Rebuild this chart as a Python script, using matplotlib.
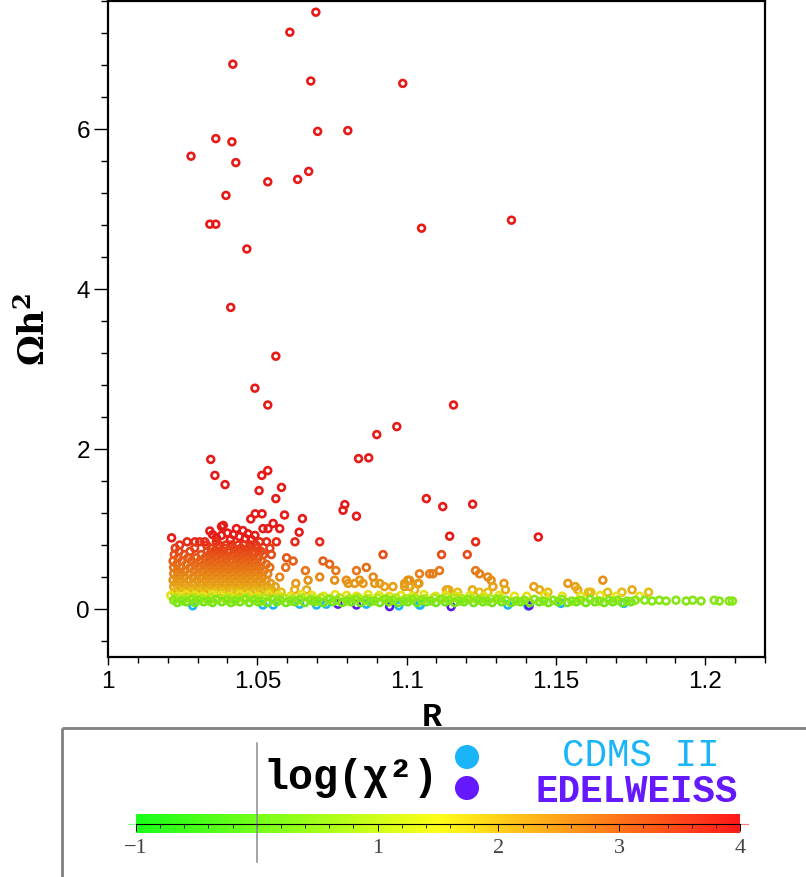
import numpy as np
import matplotlib
matplotlib.use("Agg")
import matplotlib.pyplot as plt
from matplotlib.colors import ListedColormap, Normalize, hsv_to_rgb
from matplotlib.ticker import MultipleLocator, FixedLocator, FuncFormatter

plt.rcParams["mathtext.fontset"] = "dejavuserif"

# ---- data ----
# large relic density points, all at the red end of the scale
red_R = [1.0696, 1.0609, 1.0418, 1.0679, 1.0987, 1.0361, 1.0415, 1.0702, 1.0803, 1.0278,
         1.0428, 1.0535, 1.0635, 1.0672, 1.0395, 1.0341, 1.0361, 1.1050, 1.1351, 1.0465,
         1.0411, 1.0562, 1.0492, 1.0535, 1.0967, 1.0900, 1.1157, 1.0344, 1.0358, 1.0839,
         1.0873, 1.0515, 1.0535, 1.0392, 1.0506, 1.0581, 1.0562, 1.0591, 1.0478, 1.0493,
         1.0516, 1.0651, 1.0640, 1.0793, 1.0787, 1.0832, 1.1066, 1.1121, 1.1221, 1.1144,
         1.1441, 1.0213, 1.0341, 1.0380, 1.0386, 1.0363, 1.0430, 1.0452, 1.0469, 1.0492,
         1.0519, 1.0536, 1.0553, 1.0575, 1.0400, 1.0420, 1.0440, 1.0460, 1.0380, 1.0410,
         1.0480, 1.0350]
red_O = [7.46, 7.21, 6.81, 6.60, 6.57, 5.88, 5.84, 5.97, 5.98, 5.66,
         5.58, 5.34, 5.37, 5.47, 5.17, 4.81, 4.81, 4.76, 4.86, 4.50,
         3.77, 3.16, 2.76, 2.55, 2.28, 2.18, 2.55, 1.87, 1.67, 1.88,
         1.89, 1.67, 1.73, 1.555, 1.48, 1.52, 1.38, 1.175, 1.125, 1.19,
         1.19, 1.13, 0.96, 1.305, 1.234, 1.16, 1.38, 1.28, 1.31, 0.91,
         0.90, 0.89, 0.975, 1.03, 1.045, 0.89, 1.005, 0.98, 0.94, 0.92,
         1.005, 1.005, 1.07, 1.005, 0.95, 0.93, 0.905, 0.88, 0.92, 0.87,
         0.87, 0.93]
red_chi = 3.95

# the dense cluster and its tail: (Omega h^2, log chi^2, R values)
cluster_rows = [
    (0.84, 3.75, [1.0265, 1.0291, 1.0307, 1.0324, 1.0363, 1.0508, 1.0531, 1.0564, 1.0626, 1.0709, 1.1231]),
    (0.80, 3.65, [1.0240, 1.0330, 1.0372, 1.0395, 1.0412, 1.0436, 1.0455, 1.0478, 1.0495]),
    (0.76, 3.55, [1.0225, 1.0290, 1.0345, 1.0368, 1.0390, 1.0420, 1.0445, 1.0470, 1.0500, 1.0542]),
    (0.72, 3.45, [1.0238, 1.0275, 1.0332, 1.0355, 1.0381, 1.0405, 1.0432, 1.0458, 1.0485, 1.0512]),
    (0.68, 3.35, [1.0222, 1.0255, 1.0312, 1.0340, 1.0365, 1.0392, 1.0418, 1.0442, 1.0466, 1.0490,
                  1.0520, 1.0547, 1.0921, 1.1117, 1.1203]),
    (0.64, 3.25, [1.0235, 1.0268, 1.0296, 1.0325, 1.0350, 1.0377, 1.0400, 1.0428, 1.0452, 1.0476,
                  1.0503, 1.0598]),
    (0.60, 3.15, [1.0218, 1.0248, 1.0280, 1.0308, 1.0336, 1.0360, 1.0385, 1.0410, 1.0438, 1.0462,
                  1.0488, 1.0515, 1.0620, 1.0720]),
    (0.56, 3.05, [1.0230, 1.0262, 1.0292, 1.0320, 1.0346, 1.0372, 1.0397, 1.0424, 1.0449, 1.0474,
                  1.0500, 1.0530, 1.0742]),
    (0.52, 2.95, [1.0220, 1.0245, 1.0275, 1.0303, 1.0330, 1.0356, 1.0382, 1.0407, 1.0433, 1.0458,
                  1.0484, 1.0510, 1.0542, 1.0595, 1.0865]),
    (0.48, 2.85, [1.0232, 1.0258, 1.0288, 1.0316, 1.0342, 1.0368, 1.0394, 1.0420, 1.0446, 1.0470,
                  1.0496, 1.0522, 1.0661, 1.0763, 1.0832, 1.1110, 1.1231]),
    (0.44, 2.75, [1.0220, 1.0244, 1.0272, 1.0300, 1.0327, 1.0353, 1.0379, 1.0404, 1.0430, 1.0455,
                  1.0480, 1.0507, 1.0535, 1.1077, 1.1088, 1.1043, 1.1244]),
    (0.40, 2.65, [1.0230, 1.0256, 1.0285, 1.0312, 1.0338, 1.0364, 1.0390, 1.0416, 1.0441, 1.0466,
                  1.0492, 1.0518, 1.0575, 1.0709, 1.0888, 1.1272]),
    (0.36, 2.55, [1.0218, 1.0243, 1.0270, 1.0298, 1.0325, 1.0350, 1.0376, 1.0402, 1.0427, 1.0452,
                  1.0478, 1.0504, 1.0530, 1.0670, 1.0759, 1.0798, 1.0843, 1.1004, 1.1010, 1.1283,
                  1.1657]),
    (0.32, 2.45, [1.0228, 1.0255, 1.0283, 1.0310, 1.0336, 1.0362, 1.0388, 1.0413, 1.0439, 1.0464,
                  1.0490, 1.0516, 1.0545, 1.0629, 1.0804, 1.0826, 1.0854, 1.0893, 1.0910, 1.0993,
                  1.1038, 1.1041, 1.1326, 1.1540]),
    (0.28, 2.35, [1.0220, 1.0246, 1.0273, 1.0300, 1.0326, 1.0352, 1.0378, 1.0404, 1.0429, 1.0455,
                  1.0480, 1.0506, 1.0533, 1.0560, 1.0926, 1.0954, 1.0993, 1.1010, 1.1289, 1.1426,
                  1.1565]),
    (0.24, 2.20, [1.0232, 1.0260, 1.0288, 1.0315, 1.0341, 1.0367, 1.0393, 1.0418, 1.0444, 1.0470,
                  1.0495, 1.0521, 1.0548, 1.0625, 1.0665, 1.1027, 1.1133, 1.1141, 1.1220, 1.1331,
                  1.1445, 1.1573, 1.1755]),
    (0.21, 2.00, [1.0222, 1.0250, 1.0278, 1.0305, 1.0332, 1.0358, 1.0384, 1.0410, 1.0436, 1.0461,
                  1.0487, 1.0512, 1.0540, 1.0580, 1.1171, 1.1244, 1.1272, 1.1473, 1.1609, 1.1617,
                  1.1673, 1.1721, 1.1810]),
]

# yellow strip just above the green band
yellow_R = [1.0210, 1.0235, 1.0262, 1.0291, 1.0318, 1.0350, 1.0379, 1.0408, 1.0441, 1.0470,
            1.0502, 1.0538, 1.0572, 1.0611, 1.0648, 1.0683, 1.0722, 1.0761, 1.0799, 1.0832,
            1.0871, 1.0908, 1.0942, 1.0981, 1.1019, 1.1058, 1.1097, 1.1131, 1.1170, 1.1212,
            1.1258, 1.1309, 1.1361, 1.1402, 1.1463, 1.1521, 1.1583, 1.1648, 1.1702, 1.1780]
yellow_O = [0.17, 0.16, 0.18, 0.17, 0.16, 0.18, 0.17, 0.16, 0.18, 0.17,
            0.16, 0.18, 0.17, 0.16, 0.18, 0.17, 0.16, 0.18, 0.17, 0.16,
            0.18, 0.17, 0.16, 0.17, 0.16, 0.18, 0.16, 0.17, 0.16, 0.17,
            0.16, 0.17, 0.16, 0.16, 0.17, 0.16, 0.16, 0.17, 0.16, 0.16]
yellow_chi = 1.55

# yellow-green row between the yellow strip and the band
lime_R = [1.0226, 1.0255, 1.0284, 1.0313, 1.0344, 1.0371, 1.0402, 1.0433, 1.0462, 1.0494,
          1.0523, 1.0556, 1.0587, 1.0617, 1.0650, 1.0681, 1.0713, 1.0744, 1.0776, 1.0807,
          1.0839, 1.0870, 1.0902, 1.0934, 1.0965, 1.0997, 1.1028, 1.1060, 1.1091, 1.1123,
          1.1155, 1.1186, 1.1217, 1.1249, 1.1281, 1.1312]
lime_O = [0.14, 0.13, 0.14, 0.13, 0.14, 0.13, 0.14, 0.13, 0.14, 0.13,
          0.14, 0.13, 0.14, 0.13, 0.14, 0.13, 0.14, 0.13, 0.14, 0.13,
          0.14, 0.13, 0.14, 0.13, 0.14, 0.13, 0.14, 0.13, 0.14, 0.13,
          0.14, 0.13, 0.13, 0.13, 0.13, 0.13]
lime_chi = 0.9

# green band near the WMAP value
green_R = [1.0220, 1.0248, 1.0279, 1.0303, 1.0337, 1.0362, 1.0398, 1.0425, 1.0459, 1.0488,
           1.0516, 1.0551, 1.0578, 1.0612, 1.0641, 1.0677, 1.0703, 1.0739, 1.0766, 1.0801,
           1.0829, 1.0862, 1.0893, 1.0927, 1.0955, 1.0990, 1.1018, 1.1051, 1.1082, 1.1114,
           1.1143, 1.1178, 1.1206, 1.1239, 1.1270, 1.1302, 1.1333, 1.1366, 1.1394, 1.1428,
           1.1459, 1.1491, 1.1520, 1.1553, 1.1582, 1.1614, 1.1645, 1.1677, 1.1705, 1.1738,
           1.1766, 1.1797, 1.1822, 1.1846, 1.1869, 1.1902, 1.1936, 1.1958, 1.1986, 1.2030,
           1.2047, 1.2080, 1.2091]
green_O = [0.11, 0.10, 0.12, 0.11, 0.10, 0.12, 0.11, 0.10, 0.12, 0.11,
           0.10, 0.12, 0.11, 0.10, 0.12, 0.11, 0.10, 0.12, 0.11, 0.10,
           0.12, 0.11, 0.10, 0.12, 0.11, 0.10, 0.12, 0.11, 0.10, 0.12,
           0.11, 0.10, 0.12, 0.11, 0.10, 0.12, 0.11, 0.10, 0.11, 0.12,
           0.10, 0.11, 0.12, 0.10, 0.11, 0.12, 0.10, 0.11, 0.11, 0.10,
           0.11, 0.11, 0.10, 0.11, 0.10, 0.11, 0.10, 0.11, 0.10, 0.11,
           0.10, 0.10, 0.10]
green2_R = [1.0232, 1.0262, 1.0291, 1.0320, 1.0350, 1.0381, 1.0412, 1.0442, 1.0473, 1.0503,
            1.0534, 1.0565, 1.0596, 1.0626, 1.0659, 1.0690, 1.0721, 1.0752, 1.0784, 1.0815,
            1.0846, 1.0878, 1.0910, 1.0941, 1.0972, 1.1004, 1.1035, 1.1066, 1.1098, 1.1129,
            1.1161, 1.1192, 1.1224, 1.1255, 1.1286, 1.1318, 1.1350, 1.1381, 1.1412, 1.1444,
            1.1475, 1.1507, 1.1538, 1.1568, 1.1600, 1.1630, 1.1661, 1.1690, 1.1722, 1.1751]
green2_O = [0.08, 0.09, 0.08, 0.09, 0.08, 0.09, 0.08, 0.09, 0.08, 0.09,
            0.08, 0.09, 0.08, 0.09, 0.08, 0.09, 0.08, 0.09, 0.08, 0.09,
            0.08, 0.09, 0.08, 0.09, 0.08, 0.09, 0.08, 0.09, 0.08, 0.09,
            0.08, 0.09, 0.08, 0.09, 0.08, 0.09, 0.08, 0.09, 0.08, 0.09,
            0.08, 0.09, 0.08, 0.09, 0.08, 0.09, 0.08, 0.09, 0.08, 0.09]
green_chi = 0.35
green2_chi = 0.05

# points excluded by the direct detection experiments
cdms_R = [1.0284, 1.0519, 1.0553, 1.0642, 1.0698, 1.0731, 1.0865, 1.0974, 1.1043, 1.1046,
          1.1339, 1.1406, 1.1517, 1.1727]
cdms_O = [0.04, 0.05, 0.05, 0.06, 0.05, 0.06, 0.06, 0.04, 0.05, 0.05,
          0.05, 0.04, 0.07, 0.07]
edel_R = [1.0770, 1.0832, 1.0943, 1.1149, 1.1410]
edel_O = [0.06, 0.05, 0.03, 0.03, 0.04]

cbar_ticks = [-1, 1, 2, 3, 4]
x_ticks = [1.0, 1.05, 1.1, 1.15, 1.2]
y_ticks = [0, 2, 4, 6]

# ---- colour scale: hue runs green -> yellow -> red over log(chi^2) = -1..4 ----
hues = np.linspace(120, 0, 256) / 360.0
hsv = np.stack([hues, np.full(256, 0.9), np.ones(256)], axis=1)
cmap = ListedColormap(hsv_to_rgb(hsv))
norm = Normalize(-1, 4)


def ring_color(chi):
    c = np.array(cmap(norm(chi))[:3]) * 0.9
    return tuple(c)


fig = plt.figure(figsize=(8.06, 8.77), dpi=100)
W, H = 806.0, 877.0
ax = fig.add_axes([108 / W, 1 - 657 / H, 657 / W, 656 / H])

ring = dict(marker="o", s=24, linewidths=1.9, facecolors="none")
ax.scatter(red_R, red_O, edgecolors=[ring_color(red_chi)], **ring)
for om, chi, rs in cluster_rows:
    ax.scatter(rs, [om] * len(rs), edgecolors=[ring_color(chi)], **ring)
ax.scatter(yellow_R, yellow_O, edgecolors=[ring_color(yellow_chi)], **ring)
ax.scatter(lime_R, lime_O, edgecolors=[ring_color(lime_chi)], **ring)
ax.scatter(cdms_R, cdms_O, edgecolors="#1ab4f8", **ring)
ax.scatter(edel_R, edel_O, edgecolors="#5a1ae6", **ring)
ax.scatter(green2_R, green2_O, edgecolors=[ring_color(green2_chi)], **ring)
ax.scatter(green_R, green_O, edgecolors=[ring_color(green_chi)], **ring)

ax.set_xlim(1.0, 1.22)
ax.set_ylim(-0.6, 7.6)
ax.xaxis.set_major_locator(FixedLocator(x_ticks))
ax.xaxis.set_minor_locator(MultipleLocator(0.01))
ax.xaxis.set_major_formatter(FuncFormatter(lambda v, p: f"{v:g}"))
ax.yaxis.set_major_locator(FixedLocator(y_ticks))
ax.yaxis.set_minor_locator(MultipleLocator(0.4))
ax.tick_params(which="both", direction="out", top=False, right=False, width=1.0)
ax.tick_params(axis="x", which="major", length=6, pad=4)
ax.tick_params(axis="x", which="minor", length=4)
ax.tick_params(axis="y", which="major", length=10, pad=3)
ax.tick_params(axis="y", which="minor", length=5)
for lab in ax.get_xticklabels() + ax.get_yticklabels():
    lab.set_fontfamily("Liberation Sans")
    lab.set_fontsize(17.5)
for sp in ax.spines.values():
    sp.set_linewidth(1.6)

ax.set_xlabel("R", family="Liberation Mono", weight="bold", fontsize=24)
ax.xaxis.set_label_coords(0.493, -0.068)
ax.set_ylabel(r"$\mathbf{\Omega h}^{\mathbf{2}}$", fontsize=25)
ax.yaxis.set_label_coords(-0.085, 0.50)

# ---- bottom legend panel (pixel coordinates) ----
dax = fig.add_axes([0, 0, 1, 1], facecolor="none")
dax.set_xlim(0, W)
dax.set_ylim(H, 0)
dax.axis("off")
dax.plot([62, W], [728, 728], color="#808080", lw=2.0, solid_capstyle="butt")
dax.plot([62, 62], [728, H], color="#808080", lw=2.0, solid_capstyle="butt")
dax.text(263, 789, "log(χ²)", family="Liberation Mono", weight="bold",
         fontsize=30, va="baseline", ha="left")
dax.scatter([467], [757], s=300, color="#1ab4f8", edgecolors="none")
dax.scatter([467], [788], s=300, color="#6419ff", edgecolors="none")
dax.text(641, 766, "CDMS II", family="Liberation Mono", fontsize=27,
         color="#1ab4f8", va="baseline", ha="center")
dax.text(637, 802, "EDELWEISS", family="Liberation Mono", weight="bold",
         fontsize=27, color="#6419ff", va="baseline", ha="center")

# colour bar
cax = fig.add_axes([136 / W, 1 - 833 / H, 604 / W, 19 / H])
cax.imshow(np.linspace(-1, 4, 400)[None, :], extent=(-1, 4, 0, 1),
           aspect="auto", cmap=cmap, norm=norm)
cax.set_xlim(-1, 4)
cax.set_ylim(0, 1)
for k in ["top", "left", "right"]:
    cax.spines[k].set_visible(False)
cax.spines["bottom"].set_position(("data", 0.5))
cax.spines["bottom"].set_linewidth(0.8)
cax.set_yticks([])
cax.xaxis.set_major_locator(FixedLocator(cbar_ticks))
cax.xaxis.set_minor_locator(MultipleLocator(0.2))
cax.xaxis.set_major_formatter(FuncFormatter(lambda v, p: f"{v:g}".replace("-", "\u2212")))
cax.tick_params(which="major", direction="out", length=5, width=0.7, pad=6,
                labelsize=16, labelcolor="#444444")
cax.tick_params(which="minor", direction="out", length=3, width=0.6)
for lab in cax.get_xticklabels():
    lab.set_fontfamily("Liberation Serif")
cax.plot([-1.07, -1.0], [0.5, 0.5], color="#8cff8c", lw=0.9, clip_on=False)
cax.plot([4.0, 4.07], [0.5, 0.5], color="#ff8080", lw=0.9, clip_on=False)
cax.plot([0, 0], [-1.5, 4.75], color="#8a8a8a", lw=1.1, clip_on=False)

fig.savefig("out.png", dpi=100)
